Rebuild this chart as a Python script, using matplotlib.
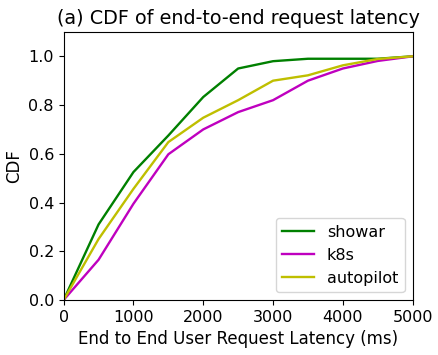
import matplotlib
matplotlib.use("Agg")
import matplotlib.pyplot as plt

latency = [0, 500, 1000, 1500, 2000, 2500, 3000, 3500, 4000, 4500, 5000]
showar = [0, 0.31, 0.525, 0.675, 0.833, 0.95, 0.98, 0.99, 0.99, 0.99, 1.0]
k8s = [0, 0.165, 0.395, 0.598, 0.70, 0.771, 0.82, 0.90, 0.95, 0.981, 1.0]
autopilot = [0, 0.25, 0.456, 0.648, 0.748, 0.82, 0.90, 0.922, 0.963, 0.989, 1.0]

fig, ax = plt.subplots(figsize=(4.39, 3.55), dpi=100)
ax.plot(latency, showar, color="g", lw=1.7, label="showar")
ax.plot(latency, k8s, color="m", lw=1.7, label="k8s")
ax.plot(latency, autopilot, color="y", lw=1.7, label="autopilot")
ax.set_xlim(0, 5000); ax.set_ylim(0, 1.1)
ax.set_xticks([0, 1000, 2000, 3000, 4000, 5000])
ax.set_yticks([0, 0.2, 0.4, 0.6, 0.8, 1.0])
ax.tick_params(labelsize=11.5)
ax.set_xlabel("End to End User Request Latency (ms)", fontsize=12)
ax.set_ylabel("CDF", fontsize=12)
ax.set_title("(a) CDF of end-to-end request latency", fontsize=13.8)
ax.legend(loc="lower right", fontsize=11.5, handlelength=2.0)
fig.subplots_adjust(left=0.145, right=0.94, bottom=0.155, top=0.91)
fig.savefig("out.png", dpi=100)
